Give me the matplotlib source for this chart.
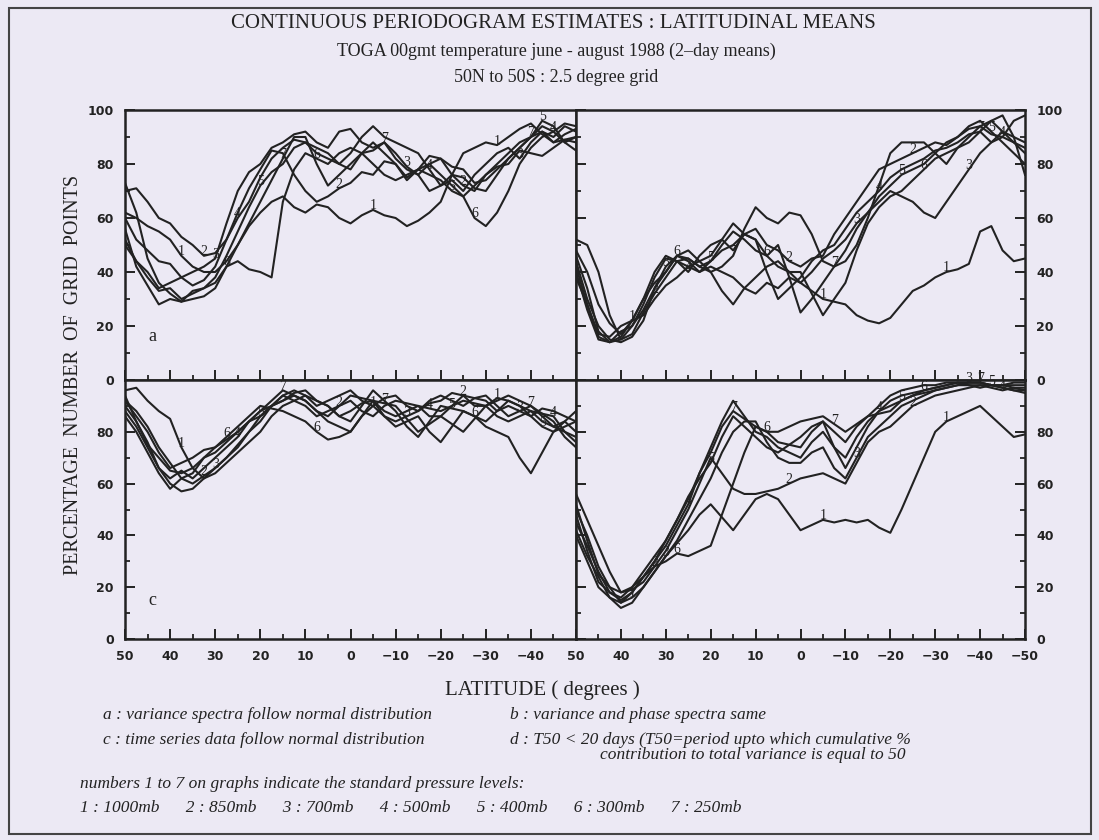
import matplotlib.pyplot as plt
import numpy as np

# latitude grid, 50N to 50S on the 2.5 degree grid
lat = [50, 47.5, 45, 42.5, 40, 37.5, 35, 32.5, 30, 27.5, 25, 22.5, 20, 17.5, 15, 12.5, 10, 7.5, 5, 2.5,
       0, -2.5, -5, -7.5, -10, -12.5, -15, -17.5, -20, -22.5, -25, -27.5, -30, -32.5, -35, -37.5,
       -40, -42.5, -45, -47.5, -50]
levels = ["1", "2", "3", "4", "5", "6", "7"]

# panel a : variance spectra follow normal distribution
a1 = [62, 60, 57, 55, 52, 46, 42, 40, 40, 44, 50, 57, 62, 66, 68, 64, 62, 65, 64, 60, 58, 61, 63, 61, 60,
      57, 59, 62, 66, 76, 84, 86, 88, 87, 90, 93, 95, 91, 88, 89, 90]
a2 = [70, 71, 66, 60, 58, 53, 50, 46, 47, 52, 62, 71, 78, 85, 84, 76, 70, 66, 68, 71, 73, 77, 76, 81, 80,
      75, 78, 83, 82, 76, 72, 70, 76, 79, 80, 85, 84, 83, 86, 89, 88]
a3 = [60, 52, 48, 44, 43, 38, 40, 42, 45, 58, 70, 77, 80, 86, 88, 91, 92, 88, 86, 92, 93, 88, 86, 88, 84,
      79, 76, 70, 72, 74, 70, 76, 80, 84, 86, 82, 88, 92, 90, 94, 92]
a4 = [50, 44, 40, 34, 36, 38, 35, 37, 42, 52, 60, 66, 75, 82, 86, 89, 88, 84, 82, 80, 84, 90, 94, 90, 88,
      86, 84, 78, 72, 76, 75, 71, 70, 76, 82, 86, 90, 94, 92, 95, 94]
a5 = [52, 44, 38, 33, 34, 30, 32, 34, 38, 46, 55, 64, 72, 77, 80, 86, 88, 86, 84, 80, 78, 84, 88, 84, 80,
      74, 78, 76, 74, 70, 68, 72, 76, 80, 84, 88, 90, 96, 94, 88, 85]
a6 = [56, 42, 35, 28, 30, 29, 33, 34, 36, 42, 44, 41, 40, 38, 66, 78, 84, 82, 80, 84, 86, 84, 80, 76, 74,
      76, 78, 80, 76, 72, 68, 60, 57, 62, 70, 80, 86, 90, 92, 88, 90]
a7 = [73, 62, 45, 36, 32, 29, 30, 31, 34, 42, 50, 58, 66, 74, 82, 90, 90, 80, 72, 76, 80, 84, 85, 88, 82,
      78, 76, 80, 82, 79, 78, 73, 74, 78, 82, 86, 90, 92, 88, 91, 93]

# panel b : variance and phase spectra same
b1 = [48, 40, 28, 21, 17, 22, 30, 36, 40, 46, 44, 40, 42, 40, 38, 34, 32, 36, 34, 38, 36, 33, 30, 29, 28,
      24, 22, 21, 23, 28, 33, 35, 38, 40, 41, 43, 55, 57, 48, 44, 45]
b2 = [52, 50, 40, 24, 15, 17, 25, 32, 38, 44, 45, 42, 44, 48, 50, 54, 56, 50, 48, 44, 42, 45, 46, 54, 60,
      66, 72, 78, 80, 82, 84, 86, 88, 87, 90, 93, 94, 91, 90, 96, 98]
b3 = [44, 30, 20, 15, 14, 16, 22, 34, 42, 46, 45, 42, 40, 33, 28, 34, 38, 42, 44, 40, 36, 40, 45, 48, 52,
      58, 62, 66, 70, 68, 66, 62, 60, 66, 72, 78, 84, 88, 92, 90, 88]
b4 = [46, 34, 18, 14, 15, 20, 28, 38, 45, 44, 40, 46, 50, 52, 48, 54, 52, 40, 30, 34, 38, 44, 48, 50, 56,
      62, 66, 70, 75, 78, 80, 82, 85, 86, 88, 91, 92, 88, 90, 88, 86]
b5 = [42, 28, 16, 14, 16, 22, 30, 40, 46, 44, 42, 40, 44, 50, 55, 52, 48, 46, 50, 38, 25, 30, 36, 42, 48,
      56, 62, 68, 72, 76, 78, 80, 84, 88, 90, 94, 96, 92, 88, 84, 80]
b6 = [40, 26, 15, 14, 18, 20, 26, 34, 40, 46, 48, 44, 46, 52, 58, 54, 52, 46, 42, 40, 40, 32, 24, 30, 36,
      48, 58, 64, 68, 70, 74, 78, 82, 84, 86, 90, 94, 96, 92, 88, 84]
b7 = [38, 28, 17, 16, 20, 22, 24, 30, 35, 38, 42, 44, 40, 42, 46, 56, 64, 60, 58, 62, 61, 54, 44, 42, 44,
      50, 60, 72, 84, 88, 88, 88, 84, 80, 86, 88, 92, 96, 98, 90, 76]

# panel c : time series data follow normal distribution
c1 = [96, 97, 92, 88, 85, 74, 66, 62, 64, 68, 72, 76, 80, 86, 90, 92, 94, 90, 92, 94, 96, 92, 90, 93, 94,
      90, 88, 91, 92, 95, 94, 90, 90, 93, 92, 90, 88, 84, 82, 80, 78]
c2 = [92, 88, 82, 74, 68, 62, 60, 63, 66, 70, 74, 80, 84, 90, 94, 92, 90, 86, 88, 90, 92, 88, 86, 90, 92,
      91, 90, 86, 86, 90, 94, 93, 92, 88, 90, 88, 86, 89, 88, 86, 84]
c3 = [90, 84, 76, 66, 60, 57, 58, 62, 66, 70, 75, 80, 86, 90, 92, 95, 96, 92, 90, 86, 88, 91, 92, 86, 84,
      86, 88, 92, 94, 92, 90, 93, 94, 90, 86, 88, 90, 86, 82, 84, 80]
c4 = [88, 82, 74, 66, 62, 65, 62, 66, 70, 74, 78, 84, 88, 90, 92, 94, 92, 88, 86, 90, 94, 93, 92, 88, 86,
      88, 90, 89, 88, 90, 92, 91, 90, 86, 84, 86, 88, 87, 86, 80, 76]
c5 = [86, 80, 72, 64, 58, 62, 64, 70, 72, 76, 80, 84, 86, 90, 94, 96, 94, 92, 90, 86, 84, 90, 96, 92, 88,
      82, 78, 84, 90, 89, 88, 86, 84, 88, 92, 90, 86, 82, 80, 84, 88]
c6 = [94, 84, 75, 70, 65, 64, 66, 70, 74, 78, 82, 86, 90, 89, 88, 86, 84, 80, 77, 78, 80, 86, 90, 86, 82,
      84, 86, 80, 76, 82, 88, 86, 82, 80, 78, 70, 64, 72, 80, 82, 84]
c7 = [92, 86, 80, 72, 66, 68, 70, 73, 74, 77, 80, 84, 88, 92, 96, 94, 92, 88, 84, 82, 80, 86, 92, 91, 90,
      85, 80, 83, 86, 83, 80, 85, 90, 92, 94, 92, 90, 87, 84, 78, 74]

# panel d : T50 < 20 days
d1 = [50, 40, 28, 20, 14, 16, 20, 26, 32, 37, 42, 48, 52, 47, 42, 48, 54, 56, 54, 48, 42, 44, 46, 45, 46,
      45, 46, 43, 41, 50, 60, 70, 80, 84, 86, 88, 90, 86, 82, 78, 79]
d2 = [56, 46, 36, 26, 18, 19, 22, 28, 34, 42, 50, 60, 70, 64, 58, 56, 56, 57, 58, 60, 62, 63, 64, 62, 60,
      68, 76, 80, 82, 86, 90, 92, 94, 95, 96, 97, 98, 98, 97, 96, 96]
d3 = [42, 32, 24, 16, 12, 14, 20, 26, 32, 38, 46, 54, 62, 72, 80, 84, 84, 76, 70, 68, 68, 72, 74, 66, 62,
      70, 78, 82, 86, 90, 92, 94, 96, 97, 98, 99, 99, 98, 97, 96, 95]
d4 = [45, 36, 26, 18, 15, 18, 24, 30, 36, 44, 52, 64, 74, 84, 92, 86, 80, 78, 74, 72, 70, 76, 80, 74, 70,
      78, 84, 88, 90, 92, 94, 95, 96, 97, 98, 98, 98, 97, 96, 97, 97]
d5 = [48, 34, 22, 18, 16, 20, 26, 32, 38, 46, 55, 62, 68, 78, 86, 82, 78, 74, 72, 75, 78, 82, 84, 80, 76,
      82, 86, 87, 88, 92, 94, 96, 97, 98, 99, 99, 99, 98, 98, 98, 98]
d6 = [52, 38, 25, 20, 18, 20, 24, 28, 30, 33, 32, 34, 36, 48, 60, 72, 82, 80, 76, 75, 74, 80, 84, 74, 66,
      74, 82, 88, 92, 94, 95, 96, 97, 98, 99, 98, 97, 98, 98, 99, 99]
d7 = [40, 30, 20, 16, 14, 18, 24, 30, 38, 46, 54, 64, 72, 82, 88, 85, 82, 80, 80, 82, 84, 85, 86, 83, 80,
      83, 86, 90, 94, 96, 97, 98, 98, 99, 99, 99, 99, 98, 98, 97, 96]

panels = {
    "a": [a1, a2, a3, a4, a5, a6, a7],
    "b": [b1, b2, b3, b4, b5, b6, b7],
    "c": [c1, c2, c3, c4, c5, c6, c7],
    "d": [d1, d2, d3, d4, d5, d6, d7],
}

# positions (indices into lat) where the level digit is written on each line
label_at = {"1": [5, 22, 33], "2": [7, 19, 30], "3": [8, 25, 35], "4": [10, 27, 38],
            "5": [12, 29, 37], "6": [9, 17, 31], "7": [14, 23, 36]}

bg = "#ECE9F4"
ink = "#222222"
serif = ["Liberation Serif", "DejaVu Serif"]
tickfont = ["DejaVu Sans"]

fig = plt.figure(figsize=(10.99, 8.4), dpi=100, facecolor=bg)

W, H = 1099, 840
def box(x0, y0, x1, y1):
    return [x0 / W, 1 - y1 / H, (x1 - x0) / W, (y1 - y0) / H]
def fx(x):
    return x / W
def fy(y):
    return 1 - y / H

axs = {
    "a": fig.add_axes(box(125, 110, 576, 380)),
    "b": fig.add_axes(box(576, 110, 1025, 380)),
    "c": fig.add_axes(box(125, 380, 576, 639)),
    "d": fig.add_axes(box(576, 380, 1025, 639)),
}

def minus(v):
    return str(v) if v >= 0 else "\u2212" + str(-v)

for key, ax in axs.items():
    ax.set_facecolor(bg)
    for lev, vals in zip(levels, panels[key]):
        ax.plot(lat, vals, color=ink, lw=1.5, zorder=2)
        for i in label_at[lev]:
            ax.text(lat[i], vals[i] + 1.5, lev, fontsize=10, family=serif, color=ink,
                    ha="center", va="center", zorder=3)
    ax.set_xlim(50, -50)
    ax.set_ylim(0, 100)
    for s in ax.spines.values():
        s.set_linewidth(1.8)
        s.set_color(ink)
    ax.set_xticks(np.arange(50, -51, -10))
    ax.set_xticks(np.arange(45, -50, -10), minor=True)
    ax.set_yticks(np.arange(0, 101, 20))
    ax.set_yticks(np.arange(10, 100, 20), minor=True)
    ax.tick_params(which="major", direction="in", length=7, width=1.4, color=ink,
                   labelsize=9, labelcolor=ink, top=False, pad=8)
    ax.tick_params(which="minor", direction="in", length=3.5, width=1.3, color=ink, top=False)

for key in ("a", "c"):
    axs[key].tick_params(which="both", left=True, right=False, labelleft=True, labelright=False)
for key in ("b", "d"):
    axs[key].tick_params(which="both", left=True, right=True, labelleft=False, labelright=True)
for key in ("a", "b"):
    axs[key].tick_params(which="both", labelbottom=False)

axs["c"].set_yticks(np.arange(0, 81, 20))
axs["d"].set_yticks(np.arange(0, 81, 20))
axs["c"].set_xticks(np.arange(50, -41, -10))
axs["c"].set_xticklabels([minus(v) for v in range(50, -41, -10)])
axs["d"].set_xticklabels([minus(v) for v in range(50, -51, -10)])

for ax in axs.values():
    for t in ax.get_xticklabels() + ax.get_yticklabels():
        t.set_fontfamily(tickfont)
        t.set_fontweight("bold")

axs["a"].text(44, 16, "a", fontsize=13, family=serif, color=ink, ha="center", va="center")
axs["c"].text(44, 15, "c", fontsize=13, family=serif, color=ink, ha="center", va="center")

fig.text(fx(553), fy(23), "CONTINUOUS PERIODOGRAM ESTIMATES : LATITUDINAL MEANS",
         fontsize=15, family=serif, color=ink, ha="center", va="center")
fig.text(fx(556), fy(51), "TOGA 00gmt temperature june - august 1988 (2\u2013day means)",
         fontsize=13, family=serif, color=ink, ha="center", va="center")
fig.text(fx(556), fy(77), "50N to 50S : 2.5 degree grid",
         fontsize=13, family=serif, color=ink, ha="center", va="center")

fig.text(fx(74), fy(375), "PERCENTAGE  NUMBER  OF  GRID  POINTS", rotation=90,
         fontsize=14.5, family=serif, color=ink, ha="center", va="center")
fig.text(fx(542), fy(690), "LATITUDE ( degrees )", fontsize=15, family=serif,
         color=ink, ha="center", va="center")

it = dict(fontsize=12.5, family=serif, style="italic", color=ink, va="center")
fig.text(fx(103), fy(715), "a : variance spectra follow normal distribution", ha="left", **it)
fig.text(fx(510), fy(715), "b : variance and phase spectra same", ha="left", **it)
fig.text(fx(103), fy(740), "c : time series data follow normal distribution", ha="left", **it)
fig.text(fx(510), fy(740), "d : T50 < 20 days (T50=period upto which cumulative %", ha="left", **it)
fig.text(fx(600), fy(755), "contribution to total variance is equal to 50", ha="left", **it)
fig.text(fx(80), fy(784), "numbers 1 to 7 on graphs indicate the standard pressure levels:", ha="left", **it)
fig.text(fx(80), fy(808),
         "1 : 1000mb      2 : 850mb      3 : 700mb      4 : 500mb      5 : 400mb      6 : 300mb      7 : 250mb",
         ha="left", **it)

# scanned page frame
frame = plt.Rectangle((fx(9), fy(834)), fx(1082), 826 / H, transform=fig.transFigure,
                      fill=False, lw=1.5, ec="#444444")
fig.add_artist(frame)

fig.savefig("out.png", dpi=100, facecolor=bg)
